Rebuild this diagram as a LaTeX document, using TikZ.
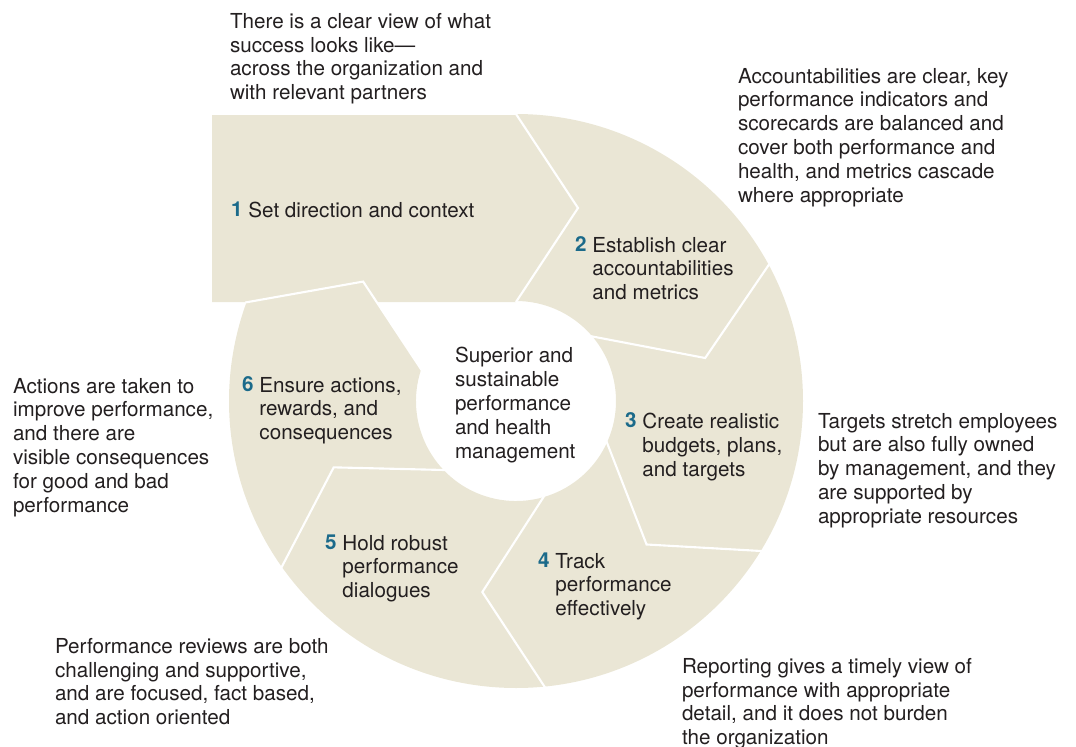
\documentclass[tikz,border=0pt]{standalone}
\usepackage{fontspec}
\setmainfont{TeX Gyre Heros}
\usepackage{xcolor}
\usetikzlibrary{positioning,calc}
\definecolor{sand}{RGB}{234,230,213}
\definecolor{stepblue}{RGB}{27,106,138}
\definecolor{inktext}{RGB}{35,31,32}

\begin{document}
\begin{tikzpicture}[
    x=0.02cm, y=-0.02cm,
    every node/.style={inner sep=0pt, outer sep=0pt, text=inktext, font=\fontsize{11.75}{13.6}\selectfont},
    note/.style={anchor=north west, align=left},
    num/.style={anchor=north west, font=\fontsize{11.75}{13.6}\selectfont\bfseries, text=stepblue},
    steptext/.style={anchor=north west, align=left},
    cut/.style={draw=white, line width=1.2pt}
]
\useasboundingbox (0,0) rectangle (1076,747);
\coordinate (c) at (516,401);

\fill[sand] (212,115) -- (516,115) -- (578,208) -- (516,302) -- (212,302) -- cycle;
\fill[sand] ($(c)+(-90:287)$) arc[start angle=-90, end angle=200, radius=287]
    -- ($(c)+(218:194)$) -- ($(c)+(198:100)$) arc[start angle=198, end angle=-90, radius=100] -- cycle;

\draw[cut] (516,114) -- (578,208) -- (516,302);
\foreach \a/\b/\o in {-40.9/-12.8/-28.4, 24/47.7/31.4, 73.4/100/84.2, 135.8/160/144.6, 198/218/200}
    \draw[cut] ($(c)+(\a:99)$) -- ($(c)+(\b:194)$) -- ($(c)+(\o:288)$);

\node[note] (vision) at (230,13) {There is a clear view of what\\success looks like---\\across the organization and\\with relevant partners};
\node[note] (metricsnote) at (738,68) {Accountabilities are clear, key\\performance indicators and\\scorecards are balanced and\\cover both performance and\\health, and metrics cascade\\where appropriate};
\node[note] (targetsnote) at (818,413) {Targets stretch employees\\but are also fully owned\\by management, and they\\are supported by\\appropriate resources};
\node[note] (reportnote) at (682,658) {Reporting gives a timely view of\\performance with appropriate\\detail, and it does not burden\\the organization};
\node[note] (reviewnote) at (55,638) {Performance reviews are both\\challenging and supportive,\\and are focused, fact based,\\and action oriented};
\node[note] (actionnote) at (13,378) {Actions are taken to\\improve performance,\\and there are\\visible consequences\\for good and bad\\performance};

\node[note] (hub) at (455,347) {Superior and\\sustainable\\performance\\and health\\management};

\node[num] (n1) at (231,202) {1};
\node[steptext] (t1) at ([xshift=3.4pt]n1.north east) {Set direction and context};
\node[num] (n2) at (575,237) {2};
\node[steptext] (t2) at ([xshift=3.4pt]n2.north east) {Establish clear\\accountabilities\\and metrics};
\node[num] (n3) at (625,413) {3};
\node[steptext] (t3) at ([xshift=3.4pt]n3.north east) {Create realistic\\budgets, plans,\\and targets};
\node[num] (n4) at (538,553) {4};
\node[steptext] (t4) at ([xshift=3.4pt]n4.north east) {Track\\performance\\effectively};
\node[num] (n5) at (325,535) {5};
\node[steptext] (t5) at ([xshift=3.4pt]n5.north east) {Hold robust\\performance\\dialogues};
\node[num] (n6) at (242,377) {6};
\node[steptext] (t6) at ([xshift=3.4pt]n6.north east) {Ensure actions,\\rewards, and\\consequences};
\end{tikzpicture}
\end{document}
